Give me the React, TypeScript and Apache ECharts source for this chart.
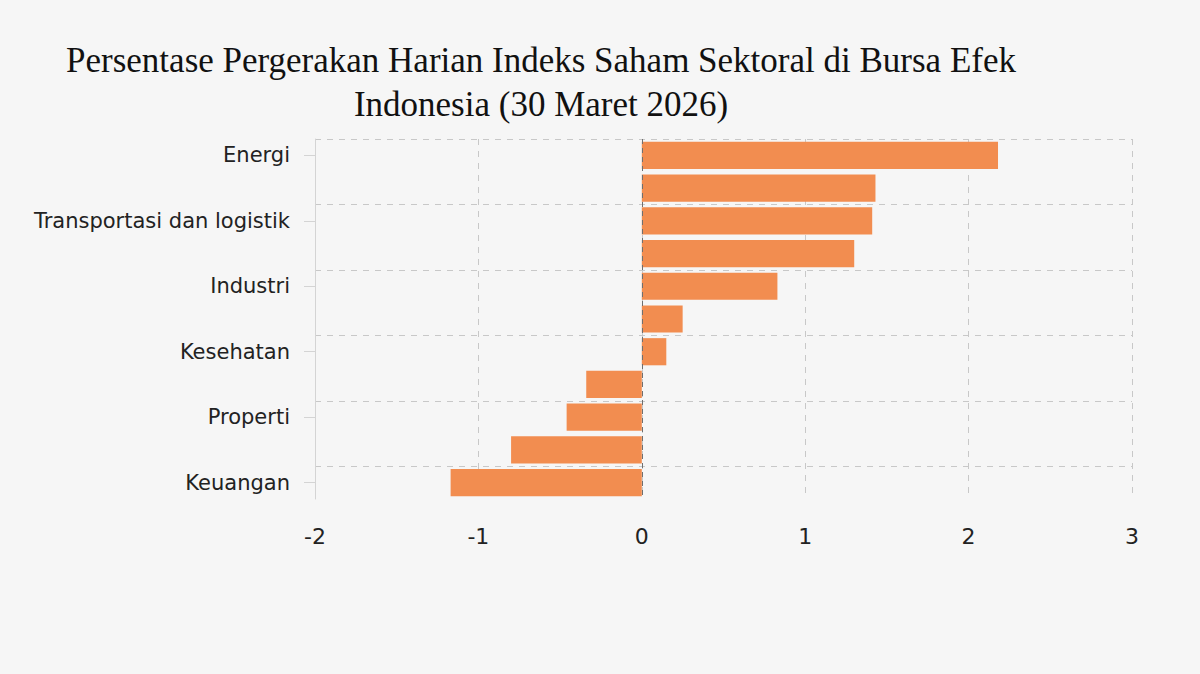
import React, { useEffect, useRef } from 'react';
import * as echarts from 'echarts';

const categories = [
  'Energi',
  'Bahan Baku',
  'Transportasi dan logistik',
  'Teknologi',
  'Industri',
  'Infrastruktur',
  'Kesehatan',
  'Barang Konsumen Primer',
  'Properti',
  'Barang Konsumen Non-Primer',
  'Keuangan'
];

const changes = [2.18, 1.43, 1.41, 1.3, 0.83, 0.25, 0.15, -0.34, -0.46, -0.8, -1.17];

const titleText = 'Persentase Pergerakan Harian Indeks Saham Sektoral di Bursa Efek\nIndonesia (30 Maret 2026)';

const App: React.FC = () => {
  const chartRef = useRef<HTMLDivElement>(null);

  useEffect(() => {
    document.body.style.margin = '0';
    if (!chartRef.current) return;
    const chart = echarts.init(chartRef.current, undefined, { renderer: 'svg' });

    const option: echarts.EChartsOption = {
      animation: false,
      backgroundColor: '#f6f6f6',
      title: {
        text: titleText,
        left: 536,
        top: 33,
        textAlign: 'center',
        textStyle: {
          fontFamily: 'Liberation Serif',
          fontWeight: 'normal',
          fontSize: 35,
          lineHeight: 44,
          color: '#111'
        }
      },
      grid: {
        left: 315,
        right: 68,
        top: 139,
        bottom: 175
      },
      xAxis: {
        type: 'value',
        min: -2,
        max: 3,
        interval: 1,
        axisLine: { show: false },
        axisTick: { show: false },
        axisLabel: {
          fontFamily: 'DejaVu Sans',
          fontSize: 22,
          color: '#222',
          margin: 26
        },
        splitLine: {
          lineStyle: { color: '#c8c8c8', type: [6, 6], width: 1 }
        }
      },
      yAxis: {
        type: 'category',
        data: categories,
        inverse: true,
        axisLine: { show: true, onZero: false, lineStyle: { color: '#d4d4d4', width: 1 } },
        axisTick: {
          show: true,
          alignWithLabel: true,
          interval: 1,
          length: 11,
          lineStyle: { color: '#d4d4d4' }
        },
        axisLabel: {
          interval: 1,
          fontFamily: 'DejaVu Sans',
          fontSize: 21,
          color: '#222',
          margin: 25
        },
        splitLine: {
          show: true,
          interval: 1,
          showMaxLine: false,
          lineStyle: { color: '#c8c8c8', type: [6, 6], width: 1 }
        }
      },
      series: [
        {
          type: 'bar',
          data: changes,
          barCategoryGap: '17%',
          itemStyle: { color: '#f28d50' },
          markLine: {
            silent: true,
            symbol: ['none', 'none'],
            label: { show: false },
            lineStyle: { color: '#6f6f6f', type: [5, 4], width: 1 },
            data: [{ xAxis: 0 }]
          }
        }
      ]
    };

    chart.setOption(option);

    const handleResize = () => chart.resize();
    window.addEventListener('resize', handleResize);
    return () => {
      window.removeEventListener('resize', handleResize);
      chart.dispose();
    };
  }, []);

  return <div ref={chartRef} style={{ width: '1200px', height: '674px' }} />;
};

export default App;
